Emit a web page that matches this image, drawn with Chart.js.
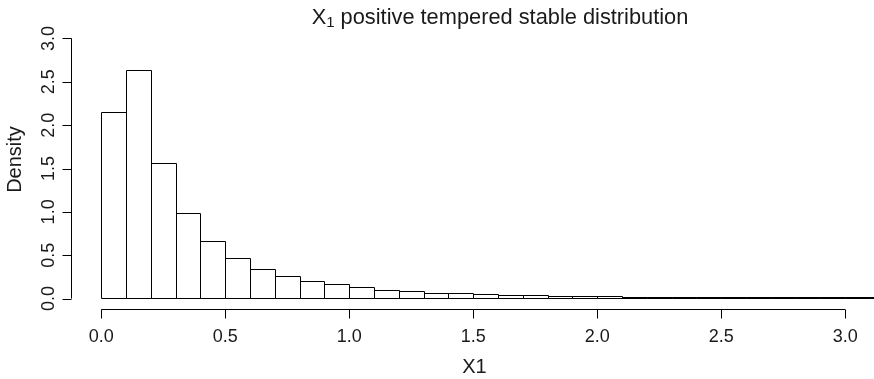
<!DOCTYPE html>
<html>
<head>
<meta charset="utf-8">
<script src="https://cdn.jsdelivr.net/npm/chart.js@4"></script>
<style>
  html, body { margin: 0; padding: 0; background: #fff; }
  #chart-container { width: 874px; height: 379px; }
</style>
</head>
<body>
<div id="chart-container"><canvas id="hist-chart" width="874" height="379"></canvas></div>
<script>
// Histogram bins (left edges, width 0.1) and their densities
const binStarts = [0.0, 0.1, 0.2, 0.3, 0.4, 0.5, 0.6, 0.7, 0.8, 0.9,
                   1.0, 1.1, 1.2, 1.3, 1.4, 1.5, 1.6, 1.7, 1.8, 1.9,
                   2.0, 2.1, 2.2, 2.3, 2.4, 2.5, 2.6, 2.7, 2.8, 2.9,
                   3.0, 3.1];
const densities = [2.14, 2.62, 1.55, 0.973, 0.655, 0.458, 0.335, 0.247, 0.188, 0.152,
                   0.120, 0.093, 0.074, 0.058, 0.049, 0.039, 0.032, 0.027, 0.022, 0.018,
                   0.015, 0.012, 0.010, 0.008, 0.007, 0.006, 0.005, 0.004, 0.003, 0.003,
                   0.002, 0.002];
const binWidth = 0.1;

const xTicks = [0.0, 0.5, 1.0, 1.5, 2.0, 2.5, 3.0];
const xTickLabels = ['0.0', '0.5', '1.0', '1.5', '2.0', '2.5', '3.0'];
const yTicks = [0.0, 0.5, 1.0, 1.5, 2.0, 2.5, 3.0];
const yTickLabels = ['0.0', '0.5', '1.0', '1.5', '2.0', '2.5', '3.0'];

const FONT = '"Liberation Sans", Arial, Helvetica, sans-serif';
const INK = '#1a1a1a';

// Outline every bar with a single 1px stroke (shared edges are not doubled)
const barOutlinePlugin = {
  id: 'barOutline',
  afterDatasetsDraw(chart) {
    const ctx = chart.ctx;
    const meta = chart.getDatasetMeta(0);
    ctx.save();
    ctx.beginPath();
    ctx.rect(0, 0, chart.width, chart.height);
    ctx.clip();
    ctx.strokeStyle = '#000';
    ctx.lineWidth = 1;
    ctx.beginPath();
    meta.data.forEach(bar => {
      const left = Math.round(bar.x - bar.width / 2) + 0.5;
      const right = Math.round(bar.x + bar.width / 2) + 0.5;
      const top = Math.round(bar.y) - 0.5;
      const base = Math.round(bar.base) - 0.5;
      ctx.moveTo(left, base);
      ctx.lineTo(left, top);
      ctx.lineTo(right, top);
      ctx.lineTo(right, base);
      ctx.lineTo(left, base);
    });
    ctx.stroke();
    ctx.restore();
  }
};

// R-style axes, labels and title drawn straight from the scales
const baseAxesPlugin = {
  id: 'baseAxes',
  afterDatasetsDraw(chart) {
    const ctx = chart.ctx;
    const xs = chart.scales.x;
    const ys = chart.scales.y;
    const area = chart.chartArea;

    ctx.save();
    ctx.strokeStyle = '#000';
    ctx.lineWidth = 1;

    // x axis
    const xAxisY = Math.round(area.bottom) + 0.5;
    ctx.beginPath();
    ctx.moveTo(xs.getPixelForValue(xTicks[0]), xAxisY);
    ctx.lineTo(xs.getPixelForValue(xTicks[xTicks.length - 1]), xAxisY);
    xTicks.forEach(t => {
      const px = Math.round(xs.getPixelForValue(t)) + 0.5;
      ctx.moveTo(px, xAxisY);
      ctx.lineTo(px, xAxisY + 9);
    });
    ctx.stroke();

    // y axis
    const yAxisX = Math.round(area.left) + 0.5;
    ctx.beginPath();
    ctx.moveTo(yAxisX, ys.getPixelForValue(yTicks[0]));
    ctx.lineTo(yAxisX, ys.getPixelForValue(yTicks[yTicks.length - 1]));
    yTicks.forEach(t => {
      const py = Math.round(ys.getPixelForValue(t)) + 0.5;
      ctx.moveTo(yAxisX, py);
      ctx.lineTo(yAxisX - 9, py);
    });
    ctx.stroke();

    ctx.fillStyle = INK;

    // x tick labels
    ctx.font = '18px ' + FONT;
    ctx.textAlign = 'center';
    ctx.textBaseline = 'alphabetic';
    xTicks.forEach((t, i) => {
      ctx.fillText(xTickLabels[i], xs.getPixelForValue(t), 342);
    });

    // y tick labels, rotated like R's default las
    yTicks.forEach((t, i) => {
      ctx.save();
      ctx.translate(54, ys.getPixelForValue(t));
      ctx.rotate(-Math.PI / 2);
      ctx.fillText(yTickLabels[i], 0, 0);
      ctx.restore();
    });

    // axis titles
    ctx.font = '20px ' + FONT;
    ctx.fillText('X1', 474.5, 373);
    ctx.save();
    ctx.translate(21, 159.5);
    ctx.rotate(-Math.PI / 2);
    ctx.fillText('Density', 0, 0);
    ctx.restore();

    // main title with subscript
    const mainFont = '21.8px ' + FONT;
    const subFont = '15px ' + FONT;
    const rest = ' positive tempered stable distribution';
    ctx.font = mainFont;
    const wX = ctx.measureText('X').width;
    const wRest = ctx.measureText(rest).width;
    ctx.font = subFont;
    const wSub = ctx.measureText('1').width;
    const left = 500 - (wX + wSub + wRest) / 2;
    ctx.textAlign = 'left';
    ctx.font = mainFont;
    ctx.fillText('X', left, 23.5);
    ctx.font = subFont;
    ctx.fillText('1', left + wX, 27);
    ctx.font = mainFont;
    ctx.fillText(rest, left + wX + wSub, 23.5);

    ctx.restore();
  }
};

function buildChartConfig() {
  const points = binStarts.map((start, i) => ({ x: start + binWidth / 2, y: densities[i] }));
  return {
    type: 'bar',
    data: {
      datasets: [{
        data: points,
        backgroundColor: '#ffffff',
        borderWidth: 0,
        categoryPercentage: 1.0,
        barPercentage: 1.0
      }]
    },
    options: {
      responsive: false,
      animation: false,
      layout: { padding: { left: 71, right: 0, top: 28, bottom: 70 } },
      scales: {
        x: { type: 'linear', min: -0.122, max: 3.116, offset: false, display: false },
        y: { min: -0.12, max: 3.12, display: false }
      },
      plugins: {
        legend: { display: false },
        tooltip: { enabled: false }
      }
    },
    plugins: [barOutlinePlugin, baseAxesPlugin]
  };
}

const canvasContext = document.getElementById('hist-chart').getContext('2d');
new Chart(canvasContext, buildChartConfig());
</script>
</body>
</html>
